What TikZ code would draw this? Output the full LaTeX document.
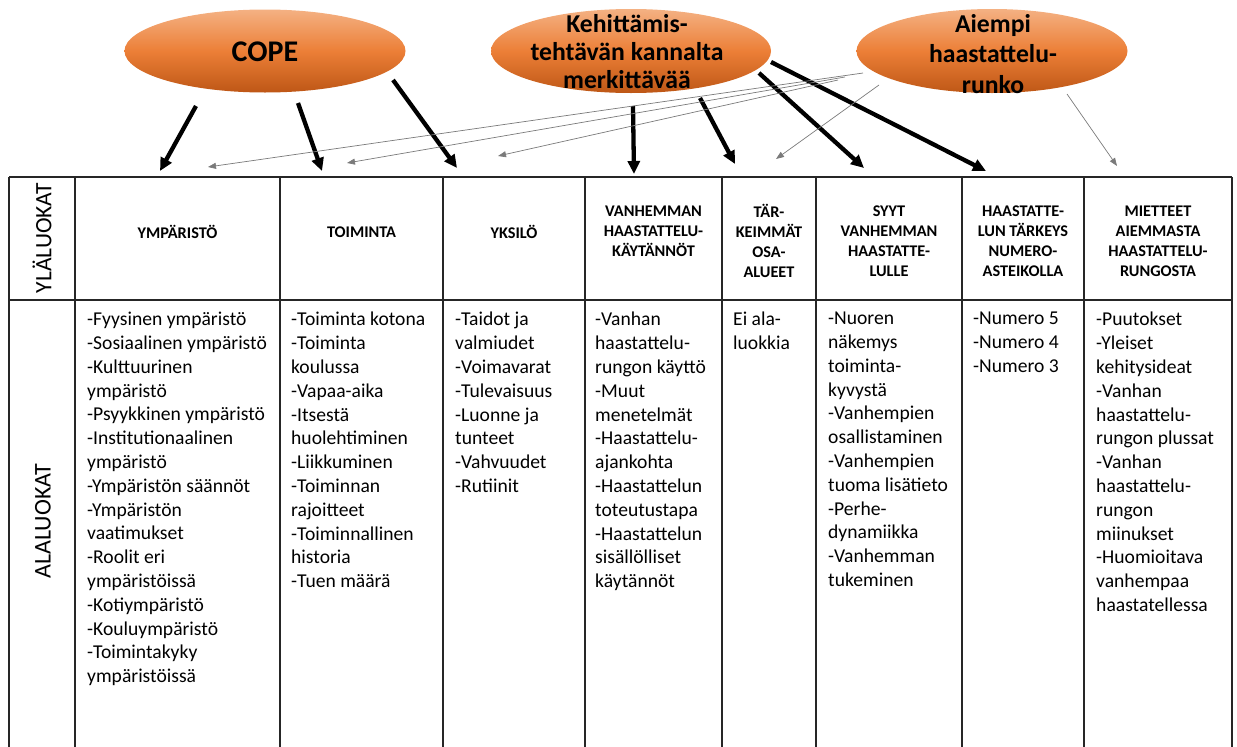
\documentclass[tikz,border=0pt]{standalone}
\usepackage{fontspec}
\setmainfont{Carlito}
\usetikzlibrary{arrows.meta,shapes.geometric}
\definecolor{orTop}{HTML}{F4B183}
\definecolor{orMid}{HTML}{EC7F37}
\definecolor{orBot}{HTML}{BE5716}
\definecolor{thinc}{HTML}{7A7A7A}
\tikzset{
  bubble/.style={ellipse, draw=none, inner sep=0pt, top color=orTop, bottom color=orBot, middle color=orMid},
  bubbletext/.style={align=center, font=\bfseries\fontsize{25.7}{28}\selectfont},
  bigarrow/.style={line width=4.3pt, -{Triangle[length=13pt,width=12pt]}},
  thinarrow/.style={line width=0.7pt, draw=thinc, -{Triangle[length=8pt,width=6pt]}, color=thinc},
  gridline/.style={line width=1.2pt, draw=black!85},
  headtext/.style={align=center, font=\bfseries\fontsize{16.3}{20}\selectfont, inner sep=0pt},
  bodytext/.style={align=left, anchor=north west, inner sep=0pt, font=\fontsize{19.6}{23.8}\selectfont},
  sidetext/.style={rotate=90, font=\fontsize{23.5}{26}\selectfont, inner sep=0pt}
}
\begin{document}
\begin{tikzpicture}[x=1pt,y=-1pt]
\useasboundingbox (0,0) rectangle (1237,747);
% ellipses
\node[bubble, minimum width=281pt, minimum height=83pt] (cope) at (265,51) {};
\node[bubbletext, font=\bfseries\fontsize{30}{32}\selectfont] (copet) at (265,52) {COPE};
\node[bubble, minimum width=280pt, minimum height=84pt] (keh) at (631,51) {};
\node[bubbletext, align=center] (keht) at (627,52) {Kehittämis-\\tehtävän kannalta\\merkittävää};
\node[bubble, minimum width=271pt, minimum height=84pt] (aie) at (992,51) {};
\node[bubbletext, font=\bfseries\fontsize{25.7}{30.5}\selectfont] (aiet) at (993,54) {Aiempi\\haastattelu-\\runko};

% table lines
\draw[gridline] (9,177) -- (1232,177);
\draw[gridline] (9,300) -- (1232,300);
\foreach \x in {9,75,280,443,585,722,816,962,1084,1232}
  \draw[gridline] (\x,177) -- (\x,748);

% side labels
\node[sidetext] (yla) at (42,238) {YLÄLUOKAT};
\node[sidetext, font=\fontsize{24}{26}\selectfont] (ala) at (43,521) {ALALUOKAT};

% headers
\node[headtext] (h1) at (177.5,232) {YMPÄRISTÖ};
\node[headtext] (h2) at (361.5,232) {TOIMINTA};
\node[headtext] (h3) at (514,232) {YKSILÖ};
\node[headtext] (h4) at (653.5,231) {VANHEMMAN\\HAASTATTELU-\\KÄYTÄNNÖT};
\node[headtext] (h5) at (769,241) {TÄR-\\KEIMMÄT\\OSA-\\ALUEET};
\node[headtext] (h6) at (889,241) {SYYT\\VANHEMMAN\\HAASTATTE-\\LULLE};
\node[headtext] (h7) at (1023,241) {HAASTATTE-\\LUN TÄRKEYS\\NUMERO-\\ASTEIKOLLA};
\node[headtext] (h8) at (1158,241) {MIETTEET\\AIEMMASTA\\HAASTATTELU-\\RUNGOSTA};

% body texts
\node[bodytext] (b1) at (87,312) {-Fyysinen ympäristö\\-Sosiaalinen ympäristö\\-Kulttuurinen\\ympäristö\\-Psyykkinen ympäristö\\-Institutionaalinen\\ympäristö\\-Ympäristön säännöt\\-Ympäristön\\vaatimukset\\-Roolit eri\\ympäristöissä\\-Kotiympäristö\\-Kouluympäristö\\-Toimintakyky\\ympäristöissä};
\node[bodytext] (b2) at (291,312) {-Toiminta kotona\\-Toiminta\\koulussa\\-Vapaa-aika\\-Itsestä\\huolehtiminen\\-Liikkuminen\\-Toiminnan\\rajoitteet\\-Toiminnallinen\\historia\\-Tuen määrä};
\node[bodytext] (b3) at (455,312) {-Taidot ja\\valmiudet\\-Voimavarat\\-Tulevaisuus\\-Luonne ja\\tunteet\\-Vahvuudet\\-Rutiinit};
\node[bodytext] (b4) at (595,312) {-Vanhan\\haastattelu-\\rungon käyttö\\-Muut\\menetelmät\\-Haastattelu-\\ajankohta\\-Haastattelun\\toteutustapa\\-Haastattelun\\sisällölliset\\käytännöt};
\node[bodytext] (b5) at (733,312) {Ei ala-\\luokkia};
\node[bodytext] (b6) at (828,312) {-Nuoren\\näkemys\\toiminta-\\kyvystä\\-Vanhempien\\osallistaminen\\-Vanhempien\\tuoma lisätieto\\-Perhe-\\dynamiikka\\-Vanhemman\\tukeminen};
\node[bodytext] (b7) at (973,312) {-Numero 5\\-Numero 4\\-Numero 3};
\node[bodytext] (b8) at (1096,312) {-Puutokset\\-Yleiset\\kehitysideat\\-Vanhan\\haastattelu-\\rungon plussat\\-Vanhan\\haastattelu-\\rungon\\miinukset\\-Huomioitava\\vanhempaa\\haastatellessa};

% arrow coordinates
\coordinate (c1s) at (196,106); \coordinate (c1e) at (160,171);
\coordinate (c2s) at (298,103); \coordinate (c2e) at (322,171);
\coordinate (c3s) at (393,80);  \coordinate (c3e) at (457,168);
\coordinate (k1s) at (633,106); \coordinate (k1e) at (634,174);
\coordinate (k2s) at (700,98);  \coordinate (k2e) at (735,164);
\coordinate (k3s) at (759,73);  \coordinate (k3e) at (864,168);
\coordinate (k4s) at (771,62);  \coordinate (k4e) at (986,171);
\coordinate (a1s) at (863,73);  \coordinate (a1e) at (208,167);
\coordinate (a2s) at (845,77);  \coordinate (a2e) at (347,163);
\coordinate (a3s) at (838,80);  \coordinate (a3e) at (498,156);
\coordinate (a4s) at (879,85);  \coordinate (a4e) at (776,159);
\coordinate (a5s) at (1067,94); \coordinate (a5e) at (1117,166);

\draw[bigarrow] (c1s) -- (c1e);
\draw[bigarrow] (c2s) -- (c2e);
\draw[bigarrow] (c3s) -- (c3e);
\draw[bigarrow] (k1s) -- (k1e);
\draw[bigarrow] (k2s) -- (k2e);
\draw[bigarrow] (k3s) -- (k3e);
\draw[bigarrow] (k4s) -- (k4e);
\draw[thinarrow] (a1s) -- (a1e);
\draw[thinarrow] (a2s) -- (a2e);
\draw[thinarrow] (a3s) -- (a3e);
\draw[thinarrow] (a4s) -- (a4e);
\draw[thinarrow] (a5s) -- (a5e);
\end{tikzpicture}
\end{document}
